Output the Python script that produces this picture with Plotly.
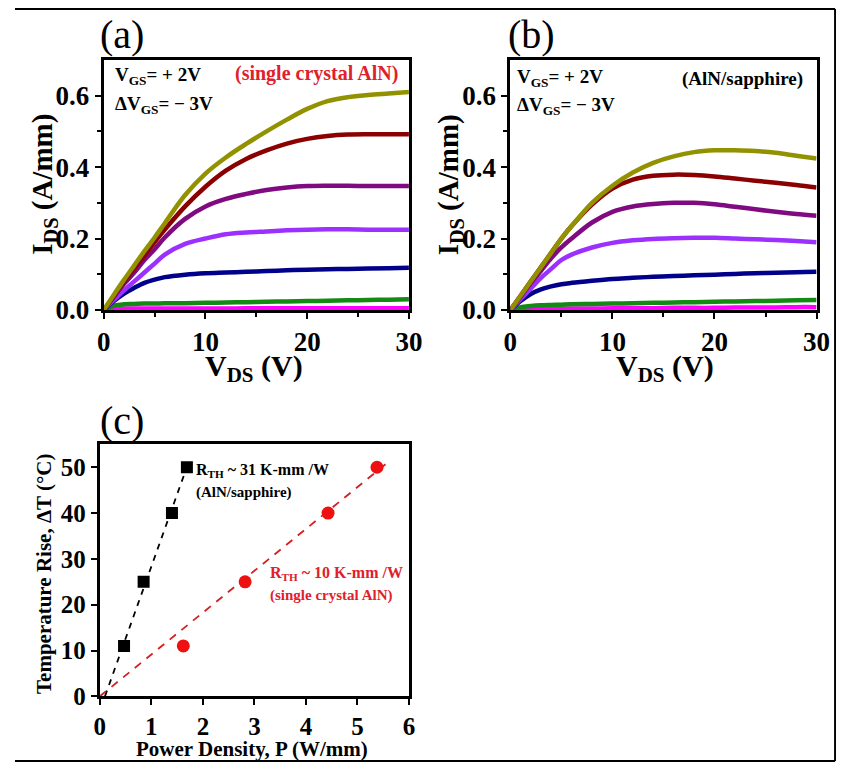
import plotly.graph_objects as go

# ---- data ----
vds = [0, 1, 2, 3, 4, 5, 6, 8, 10, 12, 14, 16, 18, 20, 22, 24, 26, 28, 30]

# (a) single crystal AlN, VGS = +2 V down in -3 V steps
a_olive = [0, 0.043, 0.085, 0.125, 0.165, 0.203, 0.243, 0.322, 0.382, 0.427, 0.465, 0.5, 0.533, 0.563, 0.585, 0.596, 0.602, 0.606, 0.61]
a_darkred = [0, 0.04, 0.08, 0.117, 0.153, 0.19, 0.225, 0.29, 0.345, 0.39, 0.423, 0.447, 0.466, 0.479, 0.487, 0.491, 0.492, 0.492, 0.492]
a_purple = [0, 0.037, 0.073, 0.105, 0.14, 0.17, 0.203, 0.255, 0.29, 0.311, 0.325, 0.336, 0.343, 0.347, 0.348, 0.348, 0.347, 0.347, 0.347]
a_violet = [0, 0.028, 0.055, 0.08, 0.105, 0.13, 0.155, 0.185, 0.2, 0.212, 0.217, 0.22, 0.223, 0.225, 0.226, 0.226, 0.225, 0.225, 0.225]
a_navy = [0, 0.025, 0.046, 0.062, 0.076, 0.085, 0.092, 0.099, 0.103, 0.105, 0.107, 0.109, 0.111, 0.113, 0.114, 0.115, 0.116, 0.117, 0.118]
a_green = [0, 0.012, 0.016, 0.017, 0.018, 0.018, 0.019, 0.019, 0.02, 0.021, 0.022, 0.023, 0.024, 0.025, 0.026, 0.027, 0.028, 0.029, 0.03]
a_magenta = [0, 0.003, 0.004, 0.004, 0.004, 0.004, 0.004, 0.004, 0.004, 0.004, 0.005, 0.005, 0.005, 0.005, 0.005, 0.005, 0.005, 0.005, 0.005]

# (b) AlN/sapphire
b_olive = [0, 0.04, 0.08, 0.12, 0.16, 0.2, 0.235, 0.3, 0.348, 0.385, 0.412, 0.43, 0.442, 0.447, 0.447, 0.445, 0.44, 0.432, 0.424]
b_darkred = [0, 0.04, 0.08, 0.12, 0.16, 0.2, 0.235, 0.295, 0.34, 0.365, 0.376, 0.379, 0.378, 0.374, 0.368, 0.362, 0.356, 0.35, 0.343]
b_purple = [0, 0.037, 0.075, 0.11, 0.145, 0.175, 0.2, 0.245, 0.275, 0.29, 0.297, 0.3, 0.3, 0.296, 0.289, 0.282, 0.275, 0.269, 0.264]
b_violet = [0, 0.03, 0.06, 0.09, 0.115, 0.14, 0.155, 0.175, 0.188, 0.195, 0.199, 0.201, 0.202, 0.202, 0.2, 0.198, 0.196, 0.193, 0.19]
b_navy = [0, 0.025, 0.045, 0.058, 0.066, 0.072, 0.076, 0.082, 0.087, 0.09, 0.093, 0.095, 0.097, 0.099, 0.101, 0.103, 0.104, 0.106, 0.107]
b_green = [0, 0.008, 0.011, 0.013, 0.014, 0.015, 0.016, 0.017, 0.018, 0.019, 0.02, 0.021, 0.022, 0.023, 0.024, 0.025, 0.026, 0.027, 0.028]
b_magenta = [0, 0.002, 0.003, 0.003, 0.004, 0.004, 0.004, 0.004, 0.005, 0.005, 0.005, 0.006, 0.006, 0.006, 0.007, 0.007, 0.007, 0.008, 0.008]

# (c) temperature rise vs power density
sapph_p = [0.47, 0.85, 1.40, 1.69]
sapph_dt = [11, 25, 40, 50]
xtal_p = [1.62, 2.82, 4.43, 5.38]
xtal_dt = [11, 25, 40, 50]
sapph_fit_p = [0.1, 1.72]
sapph_fit_dt = [0, 51]
xtal_fit_p = [0, 5.65]
xtal_fit_dt = [0, 51.6]

curve_colors = ["#929200", "#8b0000", "#800a80", "#9b30ff", "#00008b", "#138a13", "#ff00ff"]

W, H = 844, 770
FONT = "Liberation Serif, Times New Roman, Times, serif"


def px(x):
    return x / W


def py(y):
    return 1 - y / H


fig = go.Figure()

a_curves = [a_olive, a_darkred, a_purple, a_violet, a_navy, a_green, a_magenta]
b_curves = [b_olive, b_darkred, b_purple, b_violet, b_navy, b_green, b_magenta]

# draw bottom curves first so the top ones sit on top
for ys, col in reversed(list(zip(a_curves, curve_colors))):
    fig.add_trace(go.Scatter(x=vds, y=ys, mode="lines", line=dict(color=col, width=4.5, shape="spline"),
                             xaxis="x", yaxis="y", showlegend=False))
for ys, col in reversed(list(zip(b_curves, curve_colors))):
    fig.add_trace(go.Scatter(x=vds, y=ys, mode="lines", line=dict(color=col, width=4.5, shape="spline"),
                             xaxis="x2", yaxis="y2", showlegend=False))

fig.add_trace(go.Scatter(x=sapph_fit_p, y=sapph_fit_dt, mode="lines",
                         line=dict(color="black", width=1.8, dash="6px,6px"),
                         xaxis="x3", yaxis="y3", showlegend=False))
fig.add_trace(go.Scatter(x=xtal_fit_p, y=xtal_fit_dt, mode="lines",
                         line=dict(color="#d42020", width=1.8, dash="8px,7px"),
                         xaxis="x3", yaxis="y3", showlegend=False))
fig.add_trace(go.Scatter(x=sapph_p, y=sapph_dt, mode="markers",
                         marker=dict(symbol="square", size=12, color="black"),
                         xaxis="x3", yaxis="y3", showlegend=False))
fig.add_trace(go.Scatter(x=xtal_p, y=xtal_dt, mode="markers",
                         marker=dict(symbol="circle", size=13, color="#ee1111"),
                         xaxis="x3", yaxis="y3", showlegend=False))

tickfont = dict(family=FONT, size=27, color="black", weight="bold")
axis_common = dict(showline=True, linewidth=3, linecolor="black", mirror=True,
                   ticks="outside", ticklen=6, tickwidth=2, tickcolor="black",
                   showgrid=False, zeroline=False, tickfont=tickfont)

iv_x = dict(axis_common, range=[0, 30], dtick=10,
            minor=dict(dtick=5, ticks="outside", ticklen=4, tickwidth=2, tickcolor="black"))
iv_y = dict(axis_common, range=[0, 0.7], tickvals=[0, 0.2, 0.4, 0.6], tickformat=".1f",
            minor=dict(tickvals=[0.1, 0.3, 0.5], ticks="outside", ticklen=4, tickwidth=2, tickcolor="black"))

fig.update_layout(
    width=W, height=H,
    margin=dict(l=0, r=0, t=0, b=0),
    paper_bgcolor="white", plot_bgcolor="white",
    font=dict(family=FONT, color="black"),
    xaxis=dict(iv_x, domain=[px(91), px(404)], anchor="y"),
    yaxis=dict(iv_y, domain=[py(308), py(53)], anchor="x"),
    xaxis2=dict(iv_x, domain=[px(508), px(822)], anchor="y2"),
    yaxis2=dict(iv_y, domain=[py(308), py(53)], anchor="x2"),
    xaxis3=dict(axis_common, range=[0, 6], dtick=1, domain=[px(87), px(404)], anchor="y3",
                tickfont=dict(tickfont, size=25)),
    yaxis3=dict(axis_common, range=[0, 55], dtick=10, domain=[py(702), py(445)], anchor="x3",
                tickfont=dict(tickfont, size=25)),
)

annots = [
    # panel labels
    dict(x=px(110), y=py(27), text="(a)", size=40, bold=False),
    dict(x=px(530), y=py(27), text="(b)", size=40, bold=False),
    dict(x=px(110), y=py(421), text="(c)", size=40, bold=False),
    # axis titles
    dict(x=px(30), y=py(180), text="I<sub>DS</sub> (A/mm)", size=29, angle=-90),
    dict(x=px(447), y=py(180), text="I<sub>DS</sub> (A/mm)", size=29, angle=-90),
    dict(x=px(245), y=py(367), text="V<sub>DS</sub> (V)", size=30),
    dict(x=px(667), y=py(367), text="V<sub>DS</sub> (V)", size=30),
    dict(x=px(30), y=py(577), text="Temperature Rise, \u0394T (\u00b0C)", size=21, angle=-90),
    dict(x=px(243), y=py(756), text="Power Density, P (W/mm)", size=21),
]
for a in annots:
    txt = a["text"] if a.get("bold") is False else "<b>" + a["text"] + "</b>"
    fig.add_annotation(x=a["x"], y=a["y"], xref="paper", yref="paper", text=txt,
                       showarrow=False, textangle=a.get("angle", 0),
                       xanchor="center", yanchor="middle",
                       font=dict(family=FONT, size=a["size"], color="black"))

notes = [
    # (x, y, text, size, colour, anchor)
    (100, 69, "V<sub>GS</sub>= + 2V", 19, "black", "left"),
    (100, 99, "\u0394V<sub>GS</sub>= \u2212 3V", 19, "black", "left"),
    (395, 67, "(single crystal AlN)", 20, "#e0202a", "right"),
    (513, 71, "V<sub>GS</sub>= + 2V", 19, "black", "left"),
    (513, 100, "\u0394V<sub>GS</sub>= \u2212 3V", 19, "black", "left"),
    (810, 72, "(AlN/sapphire)", 19, "black", "right"),
    (184, 472, "R<sub>TH</sub> ~ 31 K-mm /W", 16, "black", "left"),
    (184, 494, "(AlN/sapphire)", 15, "black", "left"),
    (259, 577, "R<sub>TH</sub> ~ 10 K-mm /W", 16, "#e0202a", "left"),
    (259, 599, "(single crystal AlN)", 15, "#e0202a", "left"),
]
for x, y, txt, sz, col, anc in notes:
    fig.add_annotation(x=px(x), y=py(y), xref="paper", yref="paper", text="<b>" + txt + "</b>",
                       showarrow=False, xanchor=anc, yanchor="middle",
                       font=dict(family=FONT, size=sz, color=col))

# outer frame of the figure (top, right, bottom)
for x0, y0, x1, y1 in [(0, 1, 841, 1), (841, 1, 841, 768), (0, 768, 841, 768)]:
    fig.add_shape(type="line", xref="paper", yref="paper",
                  x0=px(x0), y0=py(y0), x1=px(x1), y1=py(y1),
                  line=dict(color="black", width=2))

fig.write_html("out.html")
